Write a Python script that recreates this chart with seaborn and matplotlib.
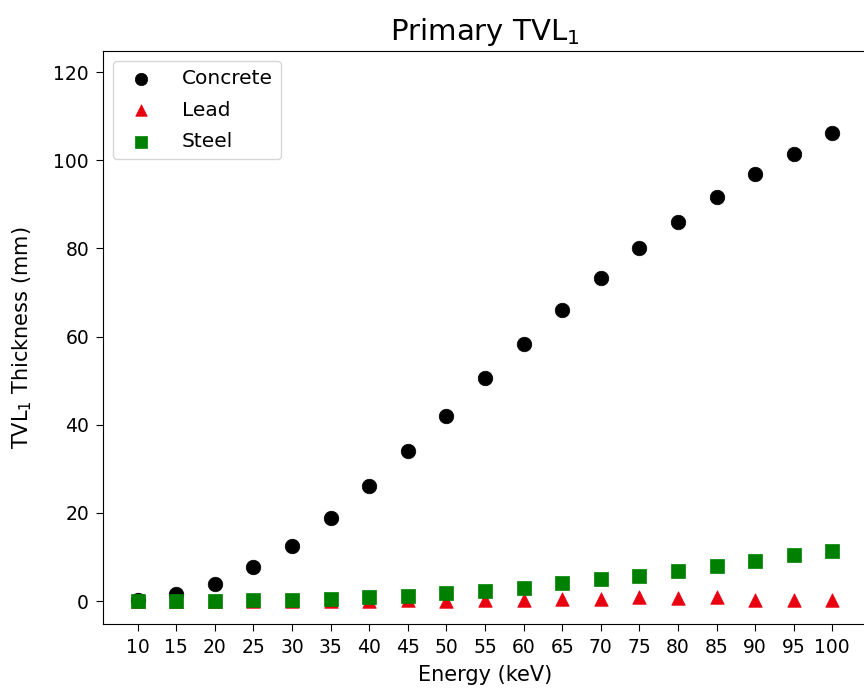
import matplotlib
matplotlib.use("Agg")
import matplotlib.pyplot as plt
import seaborn as sns
import pandas as pd

energy_kev = [10, 15, 20, 25, 30, 35, 40, 45, 50, 55, 60, 65, 70, 75, 80, 85, 90, 95, 100]
concrete_mm = [0.3, 1.5, 3.8, 7.7, 12.5, 18.9, 26.2, 34.1, 42.0, 50.7, 58.4, 66.1,
               73.2, 80.0, 85.9, 91.6, 96.8, 101.4, 106.1]
lead_mm = [0.03, 0.05, 0.07, 0.08, 0.1, 0.1, 0.12, 0.15, 0.12, 0.15, 0.2, 0.5,
           0.5, 0.9, 0.8, 1.0, 0.3, 0.3, 0.3]
steel_mm = [0.1, 0.1, 0.1, 0.15, 0.2, 0.5, 0.9, 1.2, 1.8, 2.4, 3.0, 4.0,
            4.9, 5.8, 6.9, 7.9, 9.0, 10.4, 11.4]

materials = ["Concrete", "Lead", "Steel"]
colors = {"Concrete": "black", "Lead": "#e80010", "Steel": "green"}
markers = {"Concrete": "o", "Lead": "^", "Steel": "s"}
sizes = {"Concrete": 110, "Lead": 95, "Steel": 88}

df = pd.DataFrame({
    "Energy": energy_kev * 3,
    "Thickness": concrete_mm + lead_mm + steel_mm,
    "Material": ["Concrete"] * len(energy_kev) + ["Lead"] * len(energy_kev) + ["Steel"] * len(energy_kev),
})

fig = plt.figure(figsize=(8.64, 6.9), dpi=100)
ax = fig.add_axes([103 / 864, 1 - 624 / 690, 764 / 864, (624 - 51) / 690])

for m in materials:
    sub = df[df["Material"] == m]
    sns.scatterplot(data=sub, x="Energy", y="Thickness", ax=ax, color=colors[m],
                    marker=markers[m], s=sizes[m], edgecolor=colors[m],
                    linewidth=0.5, label=m, zorder=3)

ax.set_xticks(energy_kev)
ax.set_xlim(5.5, 104.5)
ax.set_ylim(-5.2, 124.8)
ax.set_yticks([0, 20, 40, 60, 80, 100, 120])
ax.tick_params(labelsize=13.5, length=5, pad=5)
ax.set_xlabel("Energy (keV)", fontsize=15, labelpad=6)
ax.set_ylabel("TVL$_1$ Thickness (mm)", fontsize=15, labelpad=14)
ax.set_title("Primary TVL$_1$", fontsize=21, pad=8)
ax.legend(loc="upper left", fontsize=14.5, labelspacing=0.62, handletextpad=1.0,
          markerscale=0.85, borderaxespad=0.5)

fig.savefig("out.png", dpi=100)
